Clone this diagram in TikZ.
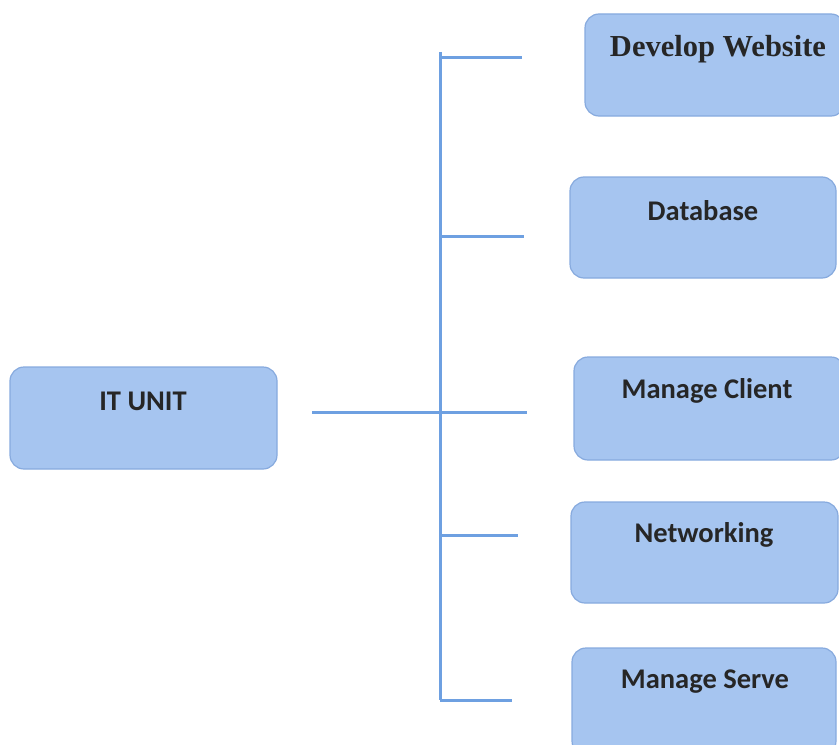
\documentclass[tikz,border=0pt]{standalone}
\usepackage{fontspec}
\setmainfont{Carlito}
\newfontfamily\serifb{Liberation Serif}
\definecolor{boxfill}{RGB}{166,197,240}
\definecolor{boxedge}{RGB}{135,170,222}
\definecolor{linec}{RGB}{110,160,225}
\tikzset{
  unitbox/.style={draw=boxedge, line width=1.2bp, fill=boxfill, rounded corners=14bp},
  lbl/.style={font=\fontsize{28.5bp}{30bp}\selectfont\bfseries, text=black!85, inner sep=0pt},
  conn/.style={draw=linec, line width=3bp}
}
\begin{document}
\begin{tikzpicture}[x=1bp,y=-1bp]
\useasboundingbox (0,0) rectangle (839,745);
% boxes
\path[unitbox] (10,367) rectangle (277,469);
\path[unitbox] (585,14) rectangle (845,116);
\path[unitbox] (570,177) rectangle (836,278);
\path[unitbox] (574,357) rectangle (845,460);
\path[unitbox] (571,502) rectangle (838,603);
\path[unitbox] (572,648) rectangle (836,755);
% labels
\node[lbl] (it) at (143,401) {IT UNIT};
\node[lbl, font=\fontsize{30.5bp}{32bp}\selectfont\serifb\bfseries] (dw) at (718,49) {Develop Website};
\node[lbl] (db) at (703,211) {Database};
\node[lbl] (mc) at (707,391) {Manage Client};
\node[lbl] (nw) at (704,535) {Networking};
\node[lbl] (ms) at (705,682) {Manage Serve};
% connector coordinates
\coordinate (top) at (440,52);
\coordinate (bot) at (440,700);
\coordinate (src) at (312,412);
\coordinate (j1) at (440,58);  \coordinate (e1) at (522,58);
\coordinate (j2) at (440,236); \coordinate (e2) at (524,236);
\coordinate (j3) at (440,412); \coordinate (e3) at (527,412);
\coordinate (j4) at (440,535); \coordinate (e4) at (518,535);
\coordinate (j5) at (440,700); \coordinate (e5) at (512,700);
\draw[conn] (top) -- (bot);
\draw[conn] (src) -- (j3);
\draw[conn] (j1) -- (e1);
\draw[conn] (j2) -- (e2);
\draw[conn] (j3) -- (e3);
\draw[conn] (j4) -- (e4);
\draw[conn] (j5) -- (e5);
\end{tikzpicture}
\end{document}
